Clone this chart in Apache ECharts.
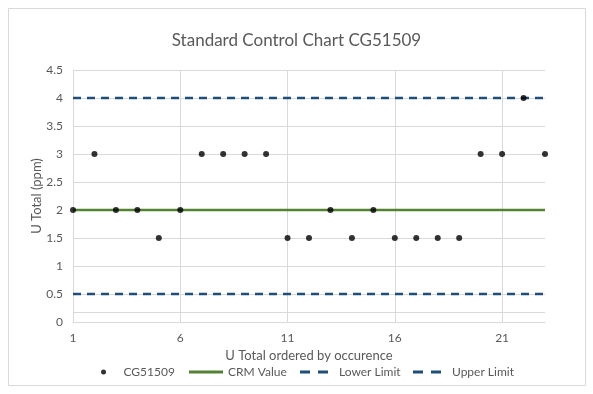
<!DOCTYPE html>
<html><head><meta charset="utf-8">
<script src="https://cdn.jsdelivr.net/npm/echarts@6/dist/echarts.min.js"></script>
<style>html,body{margin:0;padding:0;background:#fff;}#c{width:593px;height:394px;}</style>
</head><body><div id="c"></div>
<script>
const categories = ['1','2','3','4','5','6','7','8','9','10','11','12','13','14','15','16','17','18','19','20','21','22','23'];
const cg51509 = [2,3,2,2,1.5,2,3,3,3,3,1.5,1.5,2,1.5,2,1.5,1.5,1.5,1.5,3,3,4,3];
const crmValue = 2;
const lowerLimit = 0.5;
const upperLimit = 4;
const extraRule = 0.18;
const yTicks = {min:0, max:4.5, interval:0.5};

const font = 'Lato, "Open Sans", sans-serif';
const grey = '#595959';
const green = '#548235';
const navy = '#1F4E79';
const solidIcon = 'path://M0,0h34v3h-34z';
const dashIcon = 'path://M0,0h10v3h-10z M18,0h10v3h-10z';
const legText = (pad) => ({fontFamily:font, fontSize:12, color:grey, padding:[0,0,0,pad]});

const chart = echarts.init(document.getElementById('c'));
chart.setOption({
  animation:false,
  backgroundColor:'#fff',
  graphic:[{type:'rect', shape:{x:8.5,y:8.5,width:577,height:377}, style:{fill:'none', stroke:'#d9d9d9', lineWidth:1}, silent:true, z:-1}],
  title:{text:'Standard Control Chart CG51509', left:'center', top:27,
    textStyle:{fontFamily:font, fontSize:17, fontWeight:'normal', color:grey}},
  grid:{left:73, right:48, top:70, bottom:72},
  legend:[
    {top:361, left:96, itemWidth:26, itemHeight:5, textStyle:legText(2),
      data:[{name:'CG51509', icon:'circle', itemStyle:{color:'#000'}}]},
    {top:361, left:184, itemWidth:34, itemHeight:3, textStyle:legText(0),
      data:[{name:'CRM Value', icon:solidIcon, itemStyle:{color:green}}]},
    {top:361, left:295, itemWidth:28, itemHeight:3, textStyle:legText(6),
      data:[{name:'Lower Limit', icon:dashIcon, itemStyle:{color:navy}}]},
    {top:361, left:408, itemWidth:28, itemHeight:3, textStyle:legText(6),
      data:[{name:'Upper Limit', icon:dashIcon, itemStyle:{color:navy}}]}
  ],
  xAxis:{type:'category', data:categories, boundaryGap:false,
    name:'U Total ordered by occurence', nameLocation:'middle', nameGap:17,
    nameTextStyle:{fontFamily:font, fontSize:13, color:grey},
    axisLine:{lineStyle:{color:'#d9d9d9'}}, axisTick:{show:false},
    axisLabel:{interval:4, fontFamily:font, fontSize:12, color:grey, margin:10},
    splitLine:{show:true, interval:4, lineStyle:{color:'#d9d9d9'}}},
  yAxis:{type:'value', min:yTicks.min, max:yTicks.max, interval:yTicks.interval,
    name:'U Total (ppm)', nameLocation:'middle', nameGap:30, nameMoveOverlap:false,
    nameTextStyle:{fontFamily:font, fontSize:13, color:grey},
    axisLine:{show:true, lineStyle:{color:'#d9d9d9'}}, axisTick:{show:false},
    axisLabel:{fontFamily:font, fontSize:12, color:grey, margin:10},
    splitLine:{lineStyle:{color:'#d9d9d9'}}},
  series:[
    {name:'CRM Value', type:'line', data:categories.map(()=>crmValue), symbol:'none',
      lineStyle:{color:green, width:2.5}, itemStyle:{color:green}, z:2},
    {name:'Lower Limit', type:'line', data:categories.map(()=>lowerLimit), symbol:'none',
      lineStyle:{color:navy, width:2.5, type:[8,6]}, itemStyle:{color:navy}, z:2},
    {name:'Upper Limit', type:'line', data:categories.map(()=>upperLimit), symbol:'none',
      lineStyle:{color:navy, width:2.5, type:[8,6]}, itemStyle:{color:navy}, z:2},
    {name:'CG51509', type:'scatter', data:cg51509, symbol:'circle', symbolSize:6,
      itemStyle:{color:'#000'}, z:5,
      markLine:{silent:true, symbol:'none', label:{show:false},
        lineStyle:{color:'#d9d9d9', width:1, type:'solid'}, data:[{yAxis:extraRule}]}}
  ]
});
</script></body></html>
